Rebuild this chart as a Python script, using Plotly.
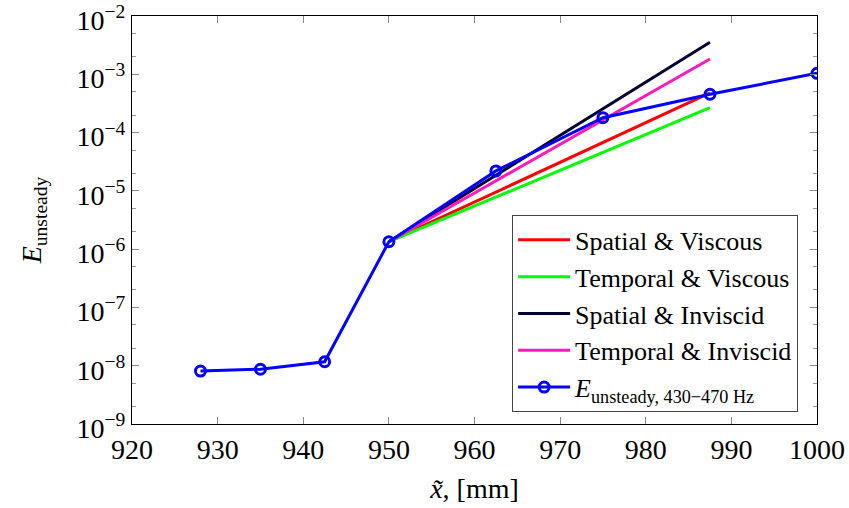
import plotly.graph_objects as go

# Measured data E_unsteady (430-470 Hz)
x_data = [928, 935, 942.5, 950, 962.5, 975, 987.5, 1000]
e_data = [8.1e-9, 8.7e-9, 1.17e-8, 1.34e-6, 2.2e-5, 1.80e-4, 4.54e-4, 1.04e-3]

# Theory lines (straight in log space between 950 and 987.5)
x_theory = [950, 987.5]
spatial_viscous = [1.34e-6, 4.8e-4]
temporal_viscous = [1.34e-6, 2.67e-4]
spatial_inviscid = [1.34e-6, 3.54e-3]
temporal_inviscid = [1.34e-6, 1.83e-3]

y_tickvals = [1e-9, 1e-8, 1e-7, 1e-6, 1e-5, 1e-4, 1e-3, 1e-2]
y_ticktext = ["10<sup>−9</sup>", "10<sup>−8</sup>", "10<sup>−7</sup>", "10<sup>−6</sup>",
              "10<sup>−5</sup>", "10<sup>−4</sup>", "10<sup>−3</sup>", "10<sup>−2</sup>"]
x_tickvals = [920, 930, 940, 950, 960, 970, 980, 990, 1000]

FONT = "Liberation Serif, Times New Roman, serif"

fig = go.Figure()
fig.add_trace(go.Scatter(x=x_theory, y=spatial_viscous, mode="lines",
                         line=dict(color="#ff0000", width=3), name="Spatial &amp; Viscous"))
fig.add_trace(go.Scatter(x=x_theory, y=temporal_viscous, mode="lines",
                         line=dict(color="#00ff00", width=3), name="Temporal &amp; Viscous"))
fig.add_trace(go.Scatter(x=x_theory, y=spatial_inviscid, mode="lines",
                         line=dict(color="#000033", width=3), name="Spatial &amp; Inviscid"))
fig.add_trace(go.Scatter(x=x_theory, y=temporal_inviscid, mode="lines",
                         line=dict(color="#ff1aba", width=3), name="Temporal &amp; Inviscid"))
fig.add_trace(go.Scatter(x=x_data, y=e_data, mode="lines+markers",
                         line=dict(color="#0000ff", width=3),
                         marker=dict(symbol="circle-open", size=10, color="#0000ff",
                                     line=dict(width=3, color="#0000ff")),
                         name="<i>E</i><sub>unsteady, 430−470 Hz</sub>"))

fig.update_layout(
    width=849, height=508, autosize=False,
    margin=dict(l=132, r=32, t=16, b=84),
    paper_bgcolor="white", plot_bgcolor="white",
    font=dict(family=FONT, size=28, color="black"),
    showlegend=True,
    legend=dict(x=0.972, y=0.029, xanchor="right", yanchor="bottom",
                bgcolor="white", bordercolor="#444", borderwidth=1.3,
                font=dict(family=FONT, size=26, color="black"), tracegroupgap=0,
                itemwidth=52),
)
fig.update_xaxes(
    range=[920, 1000], tickvals=x_tickvals, ticks="inside", ticklen=7,
    tickcolor="#888", showgrid=False, zeroline=False, ticklabeloverflow="allow",
    automargin=False,
    showline=True, linecolor="black", linewidth=1.3, mirror="allticks",
    title=dict(text="<i>x̃</i>, [mm]", font=dict(family=FONT, size=28), standoff=14),
    tickfont=dict(family=FONT, size=28),
)
fig.update_yaxes(
    type="log", range=[-9, -2], tickvals=y_tickvals, ticktext=y_ticktext,
    ticks="inside", ticklen=7, tickcolor="#888", showgrid=False, zeroline=False,
    ticklabeloverflow="allow", automargin=False, ticklabelshift=4,
    showline=True, linecolor="black", linewidth=1.3, mirror="allticks",
    minor=dict(ticks="inside", ticklen=4, tickcolor="#999", showgrid=False),
    title=dict(text="<i>E</i><sub>unsteady</sub>", font=dict(family=FONT, size=28), standoff=26),
    tickfont=dict(family=FONT, size=28),
)

fig.write_html("out.html", config={"displayModeBar": False},
               post_script="document.body.style.margin='0px';document.body.style.overflow='hidden';")
